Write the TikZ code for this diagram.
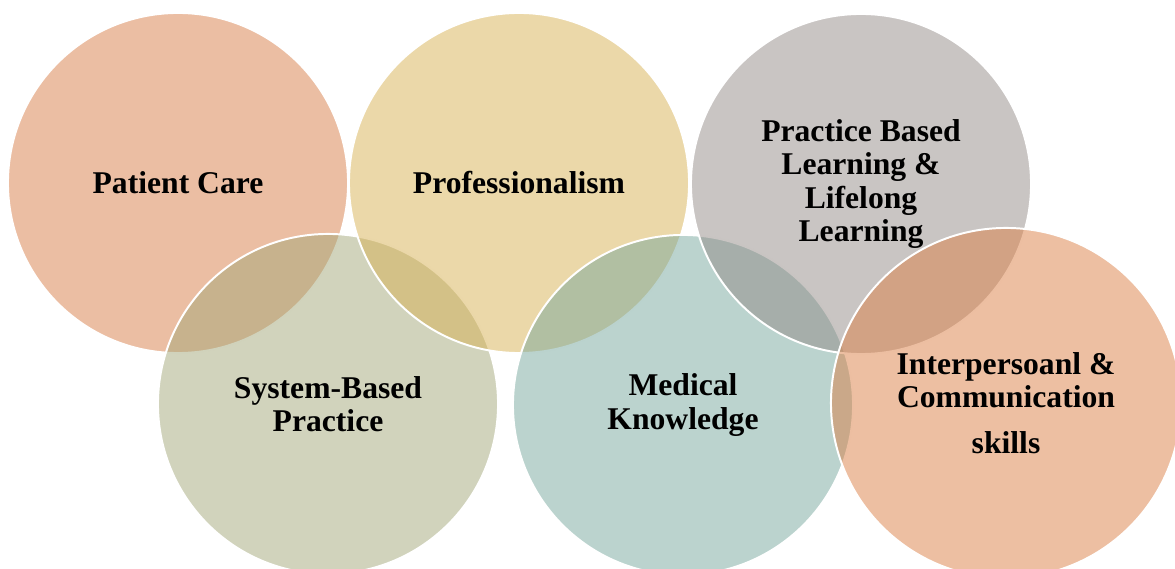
\documentclass[tikz,border=0pt]{standalone}
\usepackage{fontspec}
\setmainfont{Liberation Serif}
\usetikzlibrary{positioning}
\definecolor{careorange}{HTML}{D77D47}
\definecolor{sysolive}{HTML}{A3A779}
\definecolor{profgold}{HTML}{D7B153}
\definecolor{medteal}{HTML}{77A79D}
\definecolor{practgrey}{HTML}{938B87}
\definecolor{interorange}{HTML}{DB7F45}
\tikzset{
  bubble/.style={
    circle,
    draw=white,
    line width=1.4pt,
    fill opacity=0.5,
    text opacity=1,
    minimum size=8.5cm,
    inner sep=0pt,
    align=center,
    font=\bfseries\fontsize{22.5}{23.5}\selectfont
  }
}
\begin{document}
\begin{tikzpicture}[x=0.025cm,y=-0.025cm]
\useasboundingbox (0,0) rectangle (1175,569);
\clip (0,0) rectangle (1175,569);
% top and bottom rows drawn in zigzag order
\node[bubble, fill=careorange] (care) at (178,183) {Patient Care};
\node[bubble, fill=sysolive] (system) at (328,404) {System-Based\\ Practice};
\node[bubble, fill=profgold] (prof) at (519,183) {Professionalism};
\node[bubble, fill=medteal] (medical) at (683,405) {Medical\\ Knowledge};
\node[bubble, fill=practgrey] (practice) at (861,184) {Practice Based\\ Learning \&\\ Lifelong\\ Learning};
\node[bubble, fill=interorange, minimum size=8.75cm] (inter) at (1006,403) {Interpersoanl \&\\ Communication\\[9pt] skills};
\end{tikzpicture}
\end{document}
